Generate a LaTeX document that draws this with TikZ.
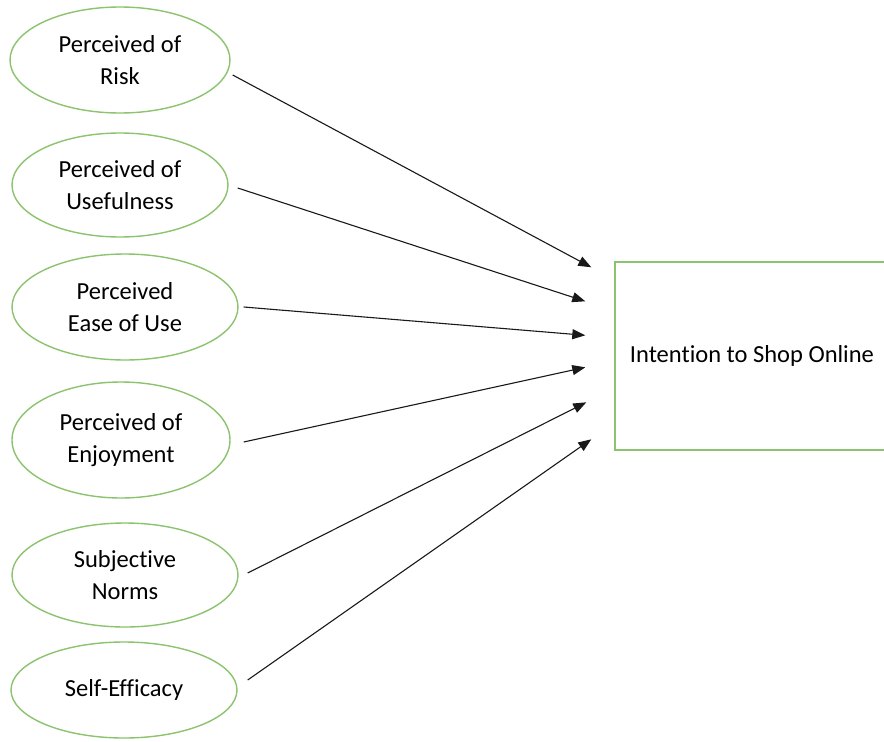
\documentclass[tikz,border=0pt]{standalone}
\usepackage{fontspec}
\setmainfont{Carlito}[Ligatures=NoCommon]
\usetikzlibrary{shapes.geometric,arrows.meta}
\definecolor{olgreen}{RGB}{140,195,110}
\tikzset{
  factor/.style={ellipse,draw=olgreen,line width=1.4pt,inner sep=0pt,align=center,
    font=\fontsize{24.5}{32}\selectfont},
  target/.style={rectangle,draw=olgreen,line width=1.4pt,inner sep=0pt,align=center,
    minimum width=274pt,minimum height=188pt,font=\fontsize{24.5}{32}\selectfont},
  arr/.style={draw=black!90,line width=1.1pt,-{Triangle[length=13pt,width=10pt]}}
}
\begin{document}
\begin{tikzpicture}[x=1pt,y=-1pt]
\useasboundingbox (0,0) rectangle (884,742);
\clip (0,0) rectangle (884,742);
\fill[white] (0,0) rectangle (884,742);
\node[factor,minimum width=220pt,minimum height=106pt] (e1) at (120,60) {Perceived of\\Risk};
\node[factor,minimum width=216pt,minimum height=104pt] (e2) at (120,185) {Perceived of\\Usefulness};
\node[factor,minimum width=226pt,minimum height=106pt] (e3) at (125,307) {Perceived\\Ease of Use};
\node[factor,minimum width=218pt,minimum height=116pt] (e4) at (121,440) {Perceived of\\Enjoyment};
\node[factor,minimum width=226pt,minimum height=104pt] (e5) at (125,575) {Subjective\\Norms};
\node[factor,minimum width=226pt,minimum height=96pt] (e6) at (124,690) {Self-Efficacy};
\node[target] (t) at (752,356) {\raisebox{4pt}{Intention to Shop Online}};
\draw[arr] ([shift={(2,15)}]e1.east) -- ([shift={(-23,6)}]t.north west);
\draw[arr] ([shift={(9,3)}]e2.east) -- ([shift={(-29,40)}]t.north west);
\draw[arr] ([shift={(5,0)}]e3.east) -- ([shift={(-29,74)}]t.north west);
\draw[arr] ([shift={(13,2)}]e4.east) -- ([shift={(-29,106)}]t.north west);
\draw[arr] ([shift={(9,-2)}]e5.east) -- ([shift={(-28,141)}]t.north west);
\draw[arr] ([shift={(10,-10)}]e6.east) -- ([shift={(-23,178)}]t.north west);
\end{tikzpicture}
\end{document}
